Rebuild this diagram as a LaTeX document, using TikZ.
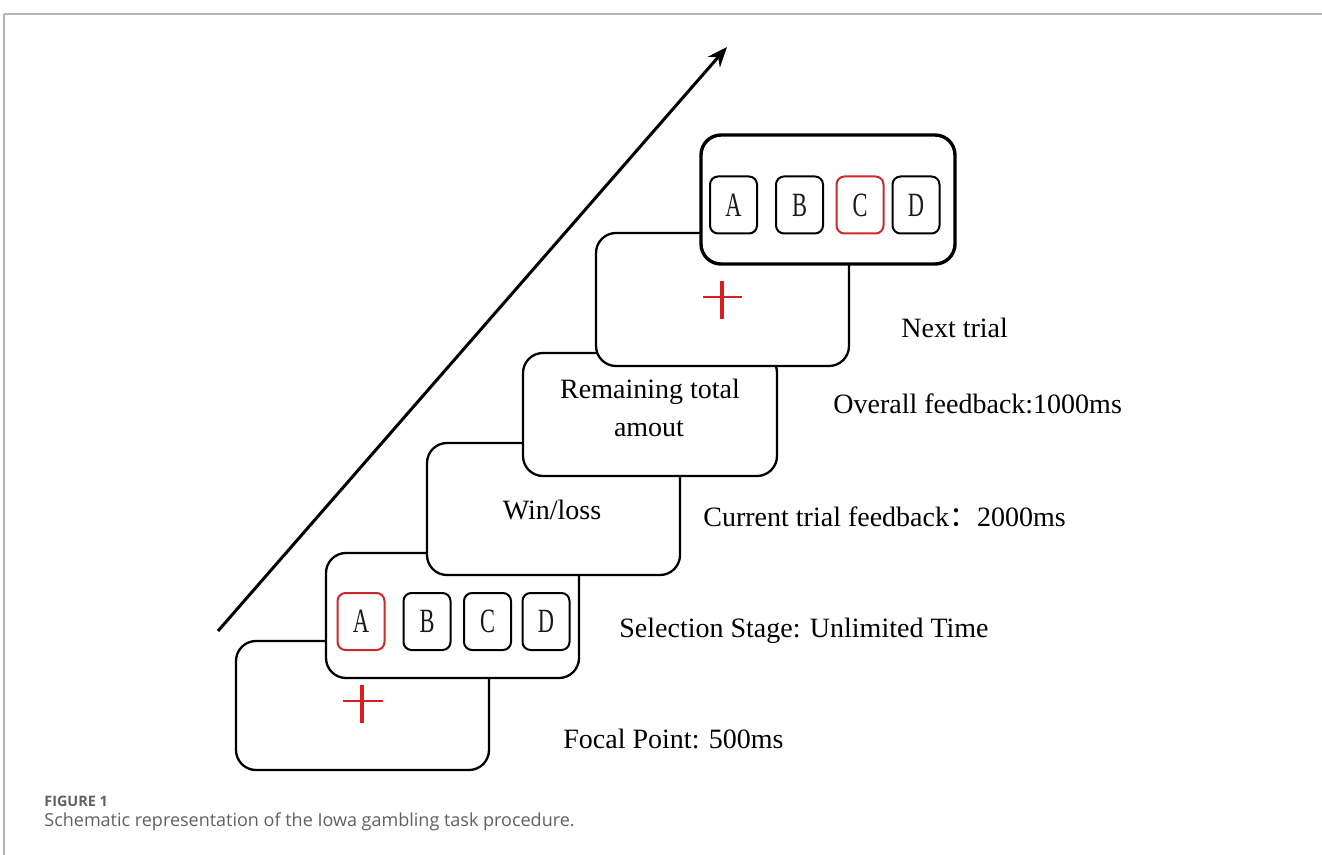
\documentclass[tikz,border=0pt]{standalone}
\usepackage{fontspec}
\setmainfont{Liberation Serif}
\newfontfamily\capfont{Open Sans}
\newfontfamily\cjk{Noto Sans CJK SC}
\usepackage{graphicx}
\usetikzlibrary{arrows.meta}
\newcommand\cardletter[1]{\scalebox{0.66}[1]{\fontsize{17}{17}\selectfont #1}}
\definecolor{capgray}{HTML}{5F6062}
\definecolor{rulegray}{HTML}{B4B4B4}
\definecolor{fixred}{HTML}{D81E1E}
\definecolor{cardred}{HTML}{CC2A2A}
\begin{document}
\begin{tikzpicture}[x=0.5pt,y=-0.5pt,
  frame/.style={draw=black, line width=1.15pt, fill=white, rounded corners=10pt,
    inner sep=0pt, outer sep=0pt, minimum width=126.5pt},
  topframe/.style={frame, line width=1.7pt},
  card/.style={draw=black, line width=1pt, fill=white, rounded corners=4pt,
    inner sep=0pt, outer sep=0pt, minimum width=23.5pt, minimum height=28.5pt,
    text=black!90},
  redcard/.style={card, draw=cardred},
  lbl/.style={font=\fontsize{14}{19}\selectfont, inner sep=0pt, anchor=base west},
  clbl/.style={lbl, anchor=base},
  fixv/.style={draw=fixred, line width=1.6pt},
  fixh/.style={draw=fixred, line width=0.8pt},
  arrowline/.style={draw=black, line width=1.5pt, -{Stealth[length=10pt,width=8pt]}}
]
\useasboundingbox (0,0) rectangle (1322,855);
% page rules
\coordinate (r0) at (4,14);
\coordinate (r1) at (1322,14);
\coordinate (r2) at (4,855);
\draw[rulegray, line width=1pt] (r0) -- (r1);
\draw[rulegray, line width=0.6pt] (r0) -- (r2);

% time arrow
\coordinate (t0) at (218,631);
\coordinate (t1) at (727,47);
\draw[arrowline] (t0) -- (t1);

% screens, back to front
\node[frame, minimum height=64.5pt] (b1) at (362.5,705.5) {};
\draw[fixv] (362,685) -- (362,723);
\draw[fixh] (343,701) -- (383,701);

\node[frame, minimum height=62.5pt] (b2) at (452.5,615.5) {};
\node[redcard] (b2a) at (361,621.5) {\cardletter{A}};
\node[card] (b2b) at (427,621.5) {\cardletter{B}};
\node[card] (b2c) at (487.5,621.5) {\cardletter{C}};
\node[card] (b2d) at (546,621.5) {\cardletter{D}};

\node[frame, minimum height=66pt] (b3) at (553.5,509) {};
\node[clbl] (t3) at (552,519) {Win/loss};

\node[frame, minimum width=127pt, minimum height=61.5pt] (b4) at (650,414.5) {};
\node[clbl] (t4a) at (650,399) {Remaining total};
\node[clbl] (t4b) at (649,437) {amout};

\node[frame, minimum height=66.5pt] (b5) at (722.5,299.5) {};
\draw[fixv] (722,281) -- (722,319);
\draw[fixh] (703,297) -- (742,297);

\node[topframe, minimum width=127pt, minimum height=64.5pt] (b6) at (828,199.5) {};
\node[card] (b6a) at (733.5,205) {\cardletter{A}};
\node[card] (b6b) at (799.5,205) {\cardletter{B}};
\node[redcard] (b6c) at (860,205) {\cardletter{C}};
\node[card] (b6d) at (916,205) {\cardletter{D}};

% stage labels
\node[lbl] (l6) at (901,338) {Next trial};
\node[lbl] (l5) at (833,414) {Overall feedback:1000ms};
\node[lbl] (l3) at (703,526) {Current trial feedback{\cjk ：}2000ms};
\node[lbl] (l2) at (619,637) {Selection Stage: Unlimited Time};
\node[lbl] (l1) at (563,748) {Focal Point: 500ms};

% caption
\node[inner sep=0pt, anchor=base west, text=capgray,
  font=\capfont\bfseries\fontsize{7.2}{8}\selectfont] (c1) at (44,806) {FIGURE 1};
\node[inner sep=0pt, anchor=base west, text=capgray,
  font=\capfont\fontsize{9}{10}\selectfont] (c2) at (44,826)
  {Schematic representation of the Iowa gambling task procedure.};
\end{tikzpicture}
\end{document}
